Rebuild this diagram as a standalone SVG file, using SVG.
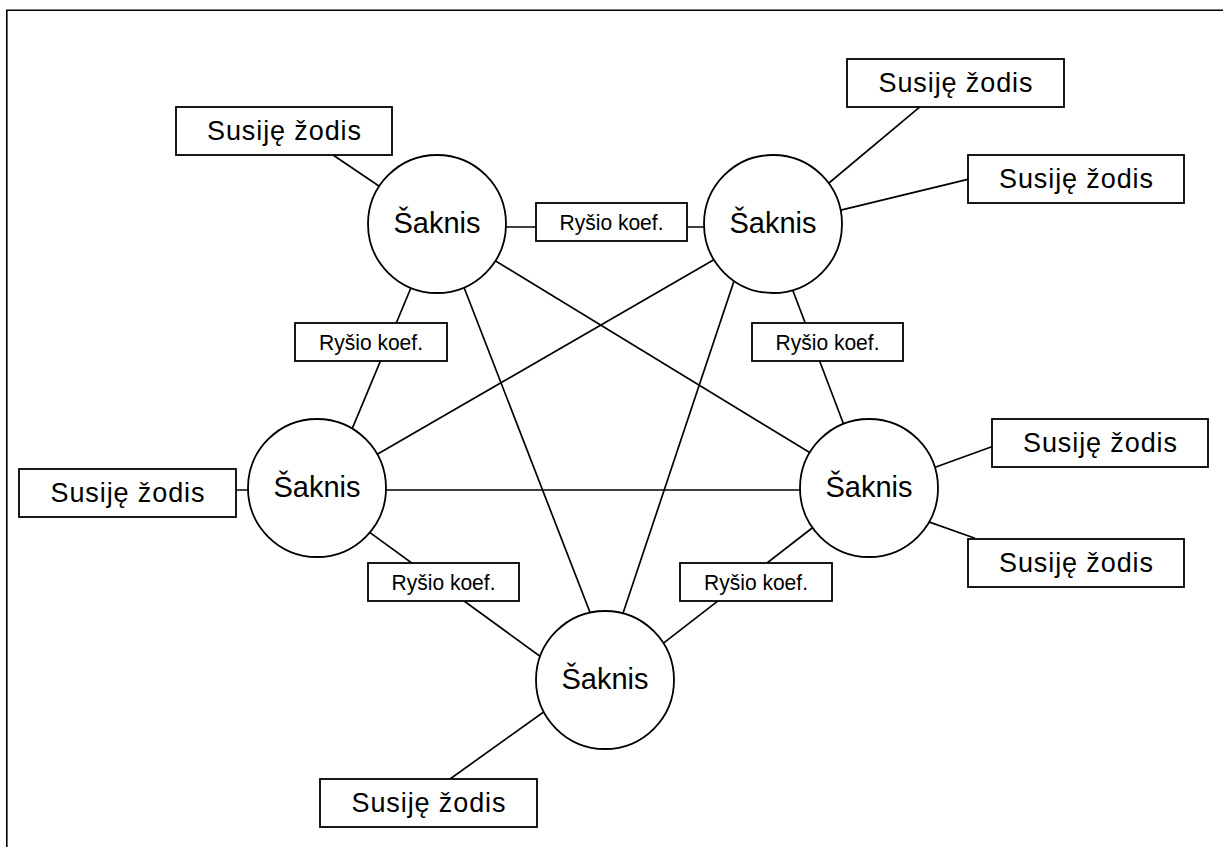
<svg xmlns="http://www.w3.org/2000/svg" width="1223" height="847" viewBox="0 0 1223 847">
<style>
.frame{fill:none;stroke:#000;stroke-width:1.6}
.conn line{stroke:#000;stroke-width:1.7;fill:none}
.root circle{fill:#fff;stroke:#000;stroke-width:1.8}
.box rect{fill:#fff;stroke:#000;stroke-width:1.8}
text{font-family:"Liberation Sans",Arial,sans-serif;fill:#000;text-anchor:middle}
.t-root{font-size:29px}
.t-word{font-size:27px}
.t-coef{font-size:22px}
</style>
<rect width="1223" height="847" fill="#fff"/>
<path class="frame" d="M6.8 847 V10.3 H1223"/>
<g id="connectors" class="conn">
<line x1="333" y1="155" x2="410" y2="207"/>
<line x1="437" y1="227" x2="773" y2="227"/>
<line x1="419" y1="268.5" x2="344.4" y2="447.3"/>
<line x1="456" y1="266.7" x2="598" y2="633"/>
<line x1="475.4" y1="248.7" x2="830.6" y2="465.3"/>
<line x1="735" y1="247.5" x2="357.4" y2="465.8"/>
<line x1="786.2" y1="273" x2="850.4" y2="442"/>
<line x1="739.6" y1="264.3" x2="617" y2="631.3"/>
<line x1="919.3" y1="107.3" x2="814" y2="195.5"/>
<line x1="967.7" y1="179.3" x2="822.3" y2="214.7"/>
<line x1="236" y1="490" x2="317" y2="490"/>
<line x1="317" y1="490" x2="869" y2="490"/>
<line x1="353.8" y1="520.9" x2="552.4" y2="665.2"/>
<line x1="653.8" y1="650.6" x2="831.5" y2="513"/>
<line x1="450" y1="779" x2="559" y2="701"/>
<line x1="991.7" y1="446.7" x2="917.9" y2="473.5"/>
<line x1="975" y1="538.3" x2="911.2" y2="515.6"/>
</g>
<g id="root-top-left" class="root"><circle cx="437" cy="224" r="69"/><text class="t-root" x="437" y="233">Šaknis</text></g>
<g id="root-top-right" class="root"><circle cx="773" cy="224" r="69"/><text class="t-root" x="773" y="233">Šaknis</text></g>
<g id="root-left" class="root"><circle cx="317" cy="488" r="69"/><text class="t-root" x="317" y="497">Šaknis</text></g>
<g id="root-right" class="root"><circle cx="869" cy="488" r="69"/><text class="t-root" x="869" y="497">Šaknis</text></g>
<g id="root-bottom" class="root"><circle cx="605" cy="680" r="69"/><text class="t-root" x="605" y="689">Šaknis</text></g>
<g id="word-top-left" class="box"><rect x="176" y="107" width="216" height="48"/><text class="t-word" x="284" y="140" textLength="154" lengthAdjust="spacing">Susiję žodis</text></g>
<g id="word-top-right-1" class="box"><rect x="847" y="59" width="217" height="48"/><text class="t-word" x="955.5" y="92" textLength="154" lengthAdjust="spacing">Susiję žodis</text></g>
<g id="word-top-right-2" class="box"><rect x="968" y="155" width="216" height="48"/><text class="t-word" x="1076" y="188" textLength="154" lengthAdjust="spacing">Susiję žodis</text></g>
<g id="word-left" class="box"><rect x="19" y="469" width="217" height="48"/><text class="t-word" x="127.5" y="502" textLength="154" lengthAdjust="spacing">Susiję žodis</text></g>
<g id="word-right-1" class="box"><rect x="992" y="419" width="216" height="48"/><text class="t-word" x="1100" y="452" textLength="154" lengthAdjust="spacing">Susiję žodis</text></g>
<g id="word-right-2" class="box"><rect x="968" y="539" width="216" height="48"/><text class="t-word" x="1076" y="572" textLength="154" lengthAdjust="spacing">Susiję žodis</text></g>
<g id="word-bottom" class="box"><rect x="320" y="779" width="217" height="48"/><text class="t-word" x="428.5" y="812" textLength="154" lengthAdjust="spacing">Susiję žodis</text></g>
<g id="coef-top" class="box"><rect x="536" y="203" width="151" height="38"/><text class="t-coef" x="611.5" y="229.5" textLength="104" lengthAdjust="spacingAndGlyphs">Ryšio koef.</text></g>
<g id="coef-left" class="box"><rect x="295" y="323" width="152" height="38"/><text class="t-coef" x="371" y="349.5" textLength="104" lengthAdjust="spacingAndGlyphs">Ryšio koef.</text></g>
<g id="coef-right" class="box"><rect x="752" y="323" width="151" height="38"/><text class="t-coef" x="827.5" y="349.5" textLength="104" lengthAdjust="spacingAndGlyphs">Ryšio koef.</text></g>
<g id="coef-bottom-left" class="box"><rect x="368" y="563" width="151" height="38"/><text class="t-coef" x="443.5" y="589.5" textLength="104" lengthAdjust="spacingAndGlyphs">Ryšio koef.</text></g>
<g id="coef-bottom-right" class="box"><rect x="680" y="563" width="152" height="38"/><text class="t-coef" x="756" y="589.5" textLength="104" lengthAdjust="spacingAndGlyphs">Ryšio koef.</text></g>
</svg>
